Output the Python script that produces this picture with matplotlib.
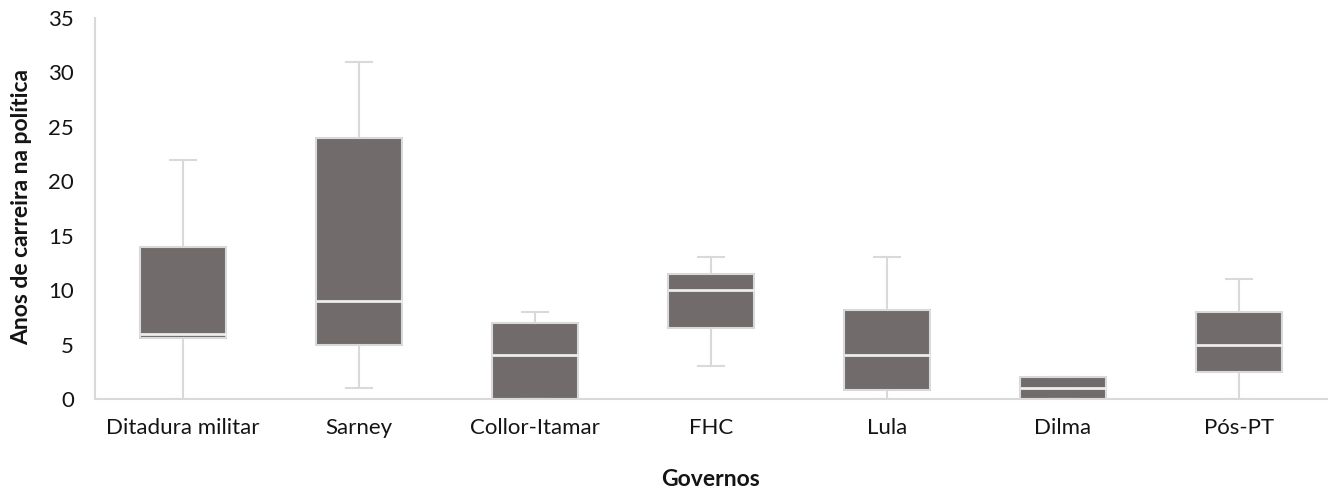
import matplotlib
matplotlib.use("Agg")
import matplotlib.pyplot as plt

# Box-plot summaries of political career length per government
governos = ["Ditadura militar", "Sarney", "Collor-Itamar", "FHC", "Lula", "Dilma", "Pós-PT"]
whisker_low = [0, 1, 0, 3, 0, 0, 0]
q1 = [5.6, 5.0, 0, 6.5, 0.8, 0, 2.5]
median = [6, 9, 4, 10, 4, 1, 5]
q3 = [14, 24, 7, 11.5, 8.2, 2, 8]
whisker_high = [22, 31, 8, 13, 13, 2, 11]
y_ticks = [0, 5, 10, 15, 20, 25, 30, 35]

plt.rcParams["font.family"] = ["Lato", "DejaVu Sans"]

fig = plt.figure(figsize=(13.33, 4.90), dpi=100)
ax = fig.add_axes([95 / 1333, 1 - 399 / 490, 1232 / 1333, 381 / 490])

stats = []
for name, lo, a, m, b, hi in zip(governos, whisker_low, q1, median, q3, whisker_high):
    stats.append({"label": name, "whislo": lo, "q1": a, "med": m, "q3": b,
                  "whishi": hi, "fliers": []})

grid_grey = "#D9D9D9"
box_face = "#716B6B"
text_col = "#141414"

ax.bxp(stats, positions=range(len(governos)), widths=0.49, patch_artist=True,
       showfliers=False,
       boxprops=dict(facecolor=box_face, edgecolor=grid_grey, linewidth=1.5),
       medianprops=dict(color="#EDEDED", linewidth=2.0),
       whiskerprops=dict(color=grid_grey, linewidth=1.5),
       capprops=dict(color=grid_grey, linewidth=1.5),
       capwidths=0.15, zorder=2)

ax.set_xlim(-0.5, len(governos) - 0.5)
ax.set_ylim(0, 35)
ax.set_yticks(y_ticks)
ax.set_yticklabels([str(v) for v in y_ticks])

for side in ("top", "right"):
    ax.spines[side].set_visible(False)
for side in ("left", "bottom"):
    ax.spines[side].set_color(grid_grey)
    ax.spines[side].set_linewidth(1.5)
ax.spines["bottom"].set_zorder(3)

ax.tick_params(axis="both", length=0, labelsize=16, colors=text_col)
ax.tick_params(axis="x", pad=14)
ax.tick_params(axis="y", pad=15)

ax.set_xlabel("Governos", fontsize=16.5, fontweight="bold", color=text_col)
ax.xaxis.set_label_coords(711 / 1333, 1 - 479 / 490, transform=fig.transFigure)
ax.set_ylabel("Anos de carreira na política", fontsize=16.5, fontweight="bold",
              color=text_col)
ax.yaxis.set_label_coords(22 / 1333, 1 - 207 / 490, transform=fig.transFigure)
ax.xaxis.label.set_va("center")
ax.yaxis.label.set_va("center")

fig.savefig("out.png", dpi=100, facecolor="white")
